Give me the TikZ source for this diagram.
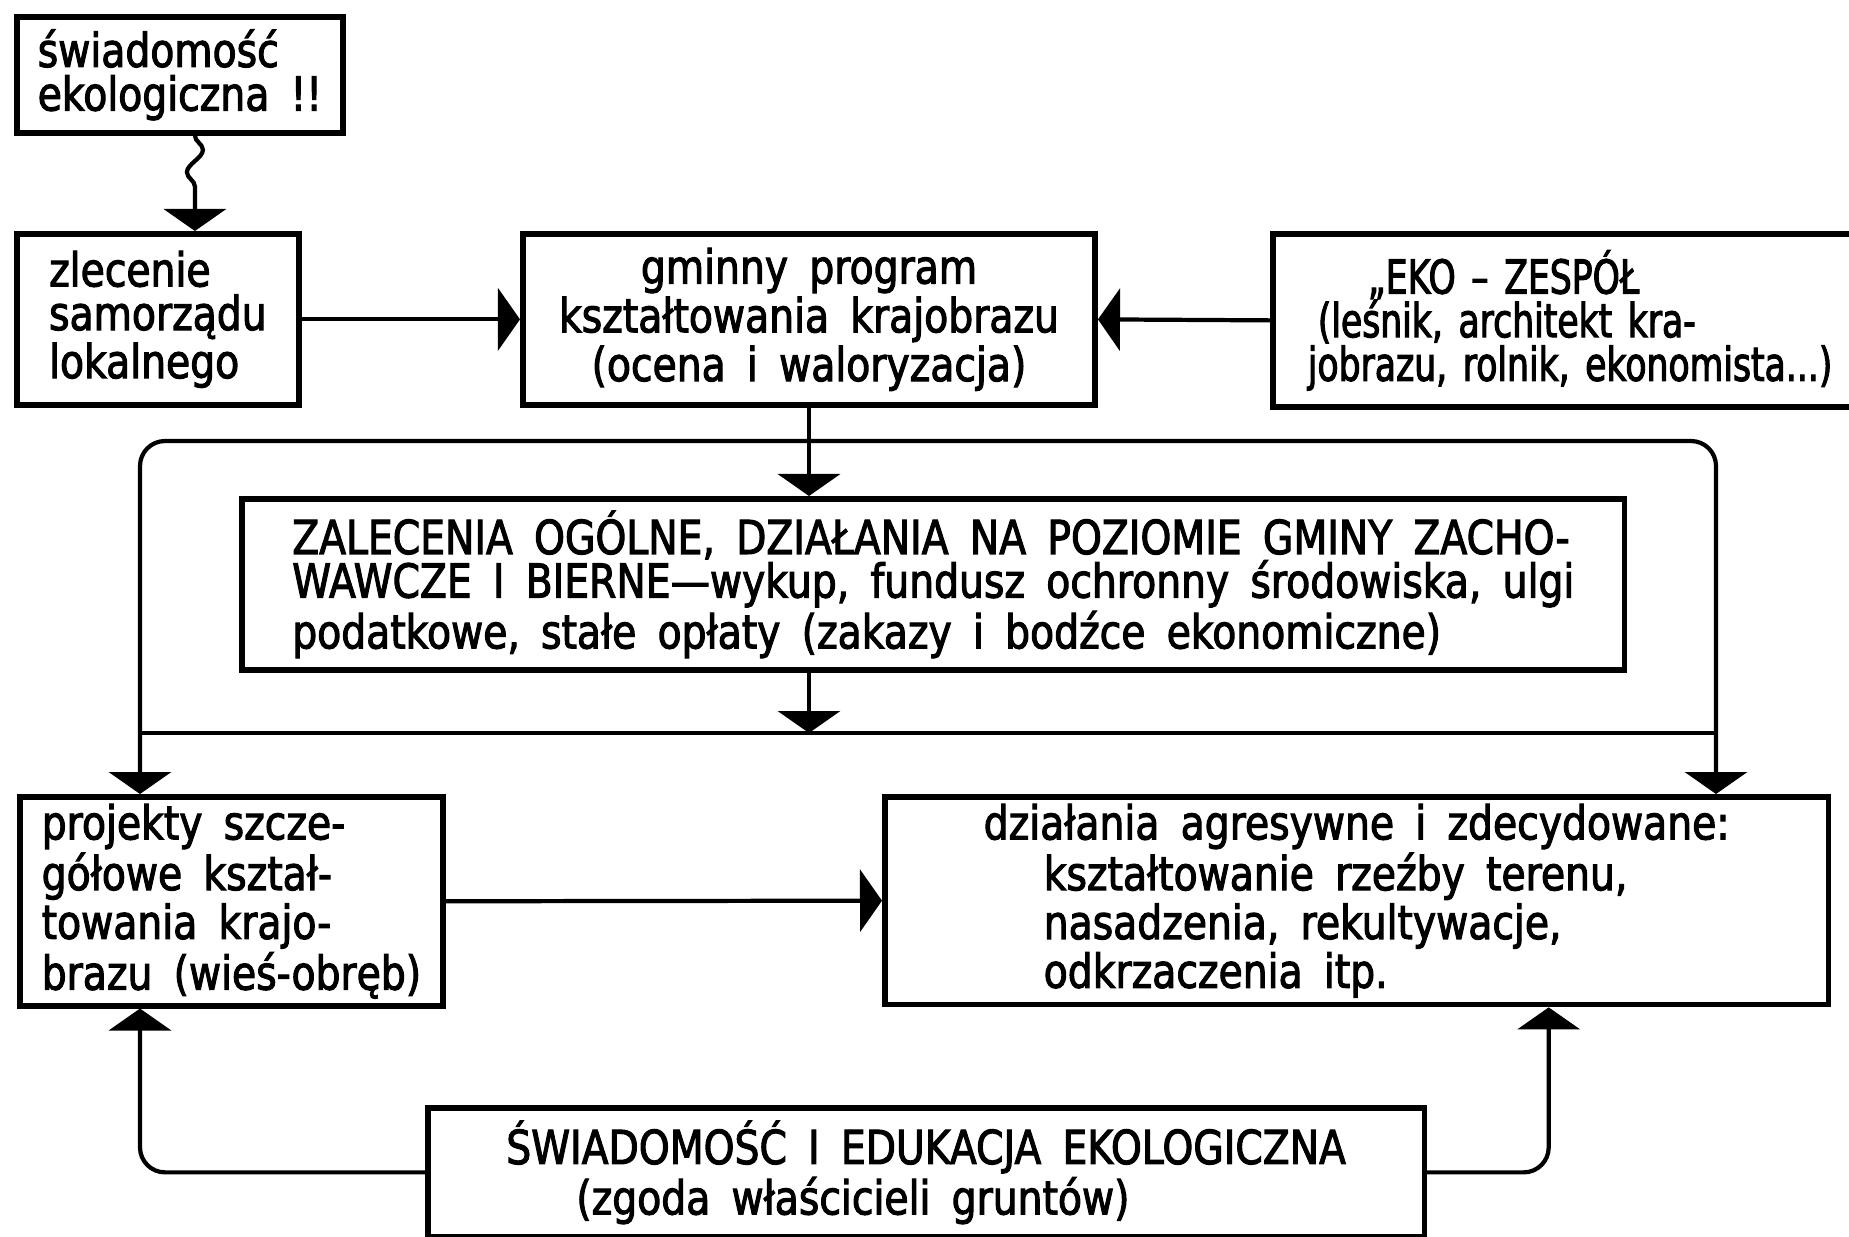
\documentclass[tikz,border=0pt]{standalone}
\usepackage{fontspec}
\setmainfont{DejaVu Sans}[FakeStretch=0.84, FakeBold=2.2, WordSpace=1.7]
\newfontfamily\narrowfont{DejaVu Sans}[FakeStretch=0.74, FakeBold=2.2, WordSpace=1.2]
\usepackage{tikz}
\usetikzlibrary{positioning,arrows.meta,decorations.pathmorphing}
\tikzstyle{box}=[rectangle, draw=black, line width=1.6pt, anchor=north west,
inner xsep=0pt, inner ysep=2pt, align=left, font=\fontsize{13.3}{12.4}\selectfont]
\tikzstyle{link}=[draw=black, line width=1.2pt]
\tikzstyle{arrowend}=[-{Triangle[length=0.22cm,width=0.62cm]}]
\tikzstyle{arrowboth}=[{Triangle[length=0.22cm,width=0.62cm]}-{Triangle[length=0.22cm,width=0.62cm]}]
\tikzstyle{wave}=[decorate, decoration={snake, amplitude=0.8mm, segment length=4.5mm, post length=2.6mm}]

\begin{document}
\begin{tikzpicture}[x=0.01cm, y=-0.01cm]
            \useasboundingbox (0,0) rectangle (1849,1236);
            \node (1)[box, minimum width=3.26cm, minimum height=1.16cm] at (14,14)
                {świadomość\\ekologiczna !!};
            \node (2)[box, minimum width=2.82cm, minimum height=1.71cm] at (14,231)
                {zlecenie\\samorządu\\lokalnego};
            \node (3)[box, align=center, minimum width=5.72cm, minimum height=1.71cm] at (520,231)
                {gminny program\\kształtowania krajobrazu\\(ocena i waloryzacja)};
            \node (4)[box, text width=7cm, inner xsep=0.35cm, minimum height=1.73cm,
                font=\narrowfont\fontsize{13.3}{12.4}\selectfont] at (1270,231)
                {\hspace*{0.6cm}„EKO – ZESPÓŁ\\
                 \hspace*{0.1cm}(leśnik, architekt kra-\\
                 jobrazu, rolnik, ekonomista...)};
            \node (5)[box, minimum width=13.82cm, minimum height=1.71cm] at (239,496)
                {ZALECENIA OGÓLNE, DZIAŁANIA NA POZIOMIE GMINY ZACHO-\\
                 WAWCZE I BIERNE—wykup, fundusz ochronny środowiska, ulgi\\
                 podatkowe, stałe opłaty (zakazy i bodźce ekonomiczne)};
            \node (6)[box, minimum width=4.23cm, minimum height=2.04cm] at (17,794)
                {projekty szcze-\\gółowe kształ-\\towania krajo-\\brazu (wieś-obręb)};
            \node (7)[box, minimum width=9.43cm, minimum height=2.04cm] at (882,794)
                {działania agresywne i zdecydowane:\\
                 \hspace*{0.6cm}kształtowanie rzeźby terenu,\\
                 \hspace*{0.6cm}nasadzenia, rekultywacje,\\
                 \hspace*{0.6cm}odkrzaczenia itp.};
            \node (8)[box, minimum width=9.96cm, minimum height=1.29cm] at (425,1105)
                {ŚWIADOMOŚĆ I EDUKACJA EKOLOGICZNA\\
                 \hspace*{0.7cm}(zgoda właścicieli gruntów)};
            \coordinate (top) at (803,441);
            \coordinate (bus1) at (140,733);
            \coordinate (bus2) at (1716,733);
            \draw [link, wave, arrowend] ([xshift=0.15cm]1.south) -- ([xshift=0.37cm]2.north);
            \draw [link, arrowend] (2.east) -- (3.west);
            \draw [link, arrowend] (4.west) -- (3.east);
            \draw [link, arrowend] (3.south) -- (3.south |- 5.north);
            \draw [link, arrowend] (3.south |- 5.south) -- (3.south |- bus1);
            \draw [link] (bus1) -- (bus2);
            \draw [link, arrowboth, rounded corners=0.25cm] (bus1 |- 6.north) |- (top) -| (bus2 |- 7.north);
            \draw [link, arrowend] (6.east) -- (7.west);
            \draw [link, arrowend, rounded corners=0.25cm] (8.west) -| (bus1 |- 6.south);
            \draw [link, arrowend, rounded corners=0.25cm] (8.east) -| ([xshift=1.92cm]7.south);
        \end{tikzpicture}
\end{document}
